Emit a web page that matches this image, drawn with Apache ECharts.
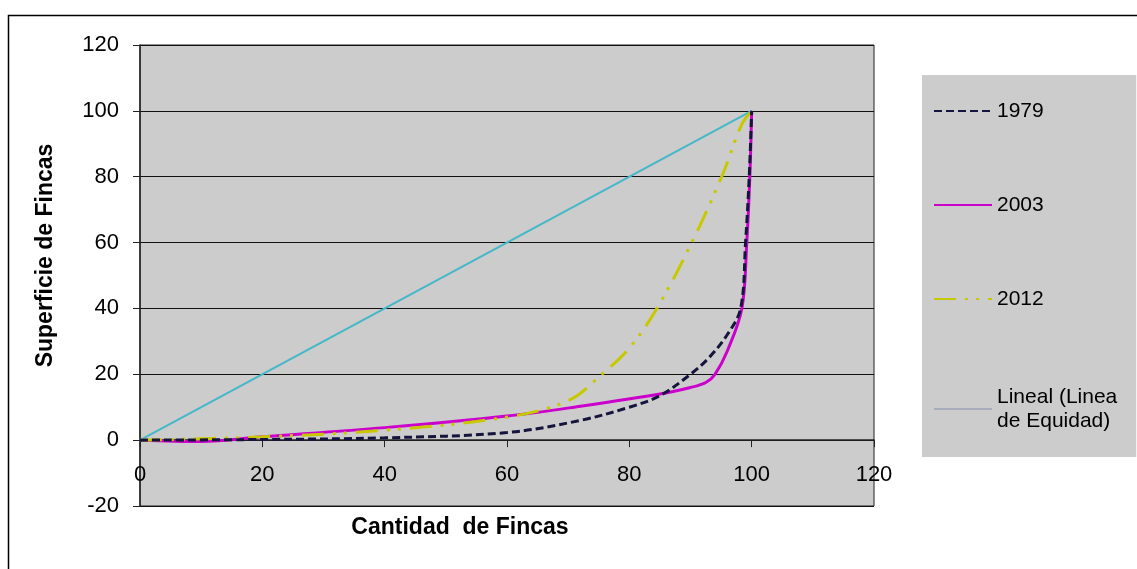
<!DOCTYPE html>
<html>
<head>
<meta charset="utf-8">
<script src="https://cdn.jsdelivr.net/npm/echarts@6/dist/echarts.min.js"></script>
<style>
html,body{margin:0;padding:0;background:#fff;}
#chart{width:1137px;height:569px;}
</style>
</head>
<body>
<div id="chart"></div>
<script>
// Data
var seriesNames = ['1979', '2003', '2012', 'Lineal (Linea\nde Equidad)'];
var fincas1979 = [0, 20, 40, 60, 72, 80, 85, 90, 93, 96, 98.2, 99, 99.6, 100];
var superficie1979 = [0, 0.2, 0.7, 2.3, 6, 10, 13.5, 20, 25, 32, 40, 60, 80, 100];
var fincas2003 = [0, 10, 20, 40, 60, 72, 85, 90, 92.5, 94, 96, 98.4, 99.2, 99.7, 100];
var superficie2003 = [0, -0.4, 1, 3.8, 7.3, 10.3, 14, 16, 17.5, 20, 27, 40, 60, 80, 100];
var fincas2012 = [0, 20, 40, 60, 70, 75.5, 80, 84.5, 90.2, 95.1, 98.4, 100];
var superficie2012 = [0, 1, 3, 7, 12, 20, 28, 40, 60, 80, 96, 100];
var fincasEquidad = [0, 100];
var superficieEquidad = [0, 100];
var xTicks = [0, 20, 40, 60, 80, 100, 120];
var yTicks = [-20, 0, 20, 40, 60, 80, 100, 120];

function pairs(xs, ys) {
  return xs.map(function (x, i) { return [x, ys[i]]; });
}

var chart = echarts.init(document.getElementById('chart'));
var font = 'Liberation Sans, Arial, sans-serif';
chart.setOption({
  backgroundColor: '#ffffff',
  animation: false,
  textStyle: { fontFamily: font },
  graphic: [{
    type: 'rect',
    left: 6, top: 13,
    shape: { width: 1145, height: 575 },
    style: { fill: 'none', stroke: '#000', lineWidth: 1.5 },
    silent: true
  }],
  grid: {
    left: 140, right: 263, top: 45, bottom: 63,
    outerBoundsMode: 'none',
    containLabel: false,
    show: true, backgroundColor: '#cccccc', borderColor: '#222', borderWidth: 1
  },
  legend: {
    orient: 'vertical',
    left: 922, top: 75,
    backgroundColor: '#cccccc',
    padding: [24, 19, 20, 11],
    itemGap: 70,
    itemWidth: 58, itemHeight: 12,
    itemStyle: { opacity: 0 },
    textStyle: { fontSize: 21, color: '#000', fontFamily: font, lineHeight: 24 },
    data: [
      { name: seriesNames[0] },
      { name: seriesNames[1] },
      { name: seriesNames[2] },
      { name: seriesNames[3], lineStyle: { color: '#a8adbd', width: 2 },
        textStyle: { padding: [8, 0, 0, 0] } }
    ]
  },
  xAxis: {
    type: 'value', min: 0, max: 120, interval: 20,
    name: 'Cantidad  de Fincas', nameLocation: 'middle', nameGap: 10,
    nameTextStyle: { fontSize: 23, fontWeight: 'bold', color: '#000', padding: [0, 94, 0, 0] },
    axisLine: { onZero: true, lineStyle: { color: '#222', width: 1.5 } },
    axisTick: { show: true, length: 7, lineStyle: { color: '#222' } },
    axisLabel: { fontSize: 22, color: '#000', margin: -42,
      formatter: function (v) { return xTicks.indexOf(v) >= 0 ? String(v) : ''; } },
    splitLine: { show: false }
  },
  yAxis: {
    type: 'value', min: -20, max: 120, interval: 20,
    name: 'Superficie de Fincas', nameLocation: 'middle', nameGap: 83,
    nameTextStyle: { fontSize: 23, fontWeight: 'bold', color: '#000', padding: [0, 0, 0, 40] },
    axisLine: { show: true, onZero: false, lineStyle: { color: '#222', width: 1.5 } },
    axisTick: { show: true, length: 7, lineStyle: { color: '#222' } },
    axisLabel: { fontSize: 22, color: '#000', margin: 21,
      formatter: function (v) { return yTicks.indexOf(v) >= 0 ? String(v) : ''; } },
    splitLine: { show: true, lineStyle: { color: '#111', width: 1.2 } }
  },
  series: [
    {
      name: seriesNames[0], type: 'line', data: pairs(fincas1979, superficie1979),
      showSymbol: false, symbol: 'none', smooth: 0.35, z: 4,
      lineStyle: { color: '#14143c', width: 3, type: [8, 4] },
      itemStyle: { color: '#14143c' }
    },
    {
      name: seriesNames[1], type: 'line', data: pairs(fincas2003, superficie2003),
      showSymbol: false, symbol: 'none', smooth: 0.35, z: 3,
      lineStyle: { color: '#cc00cc', width: 3 },
      itemStyle: { color: '#cc00cc' }
    },
    {
      name: seriesNames[2], type: 'line', data: pairs(fincas2012, superficie2012),
      showSymbol: false, symbol: 'none', smooth: 0.35, z: 3,
      lineStyle: { color: '#c8c800', width: 3, type: [22, 9, 3, 8, 3, 9] },
      itemStyle: { color: '#c8c800' }
    },
    {
      name: seriesNames[3], type: 'line', data: pairs(fincasEquidad, superficieEquidad),
      showSymbol: false, symbol: 'none', z: 2,
      lineStyle: { color: '#44b8c8', width: 2 },
      itemStyle: { color: '#44b8c8' }
    }
  ]
});
</script>
</body>
</html>
